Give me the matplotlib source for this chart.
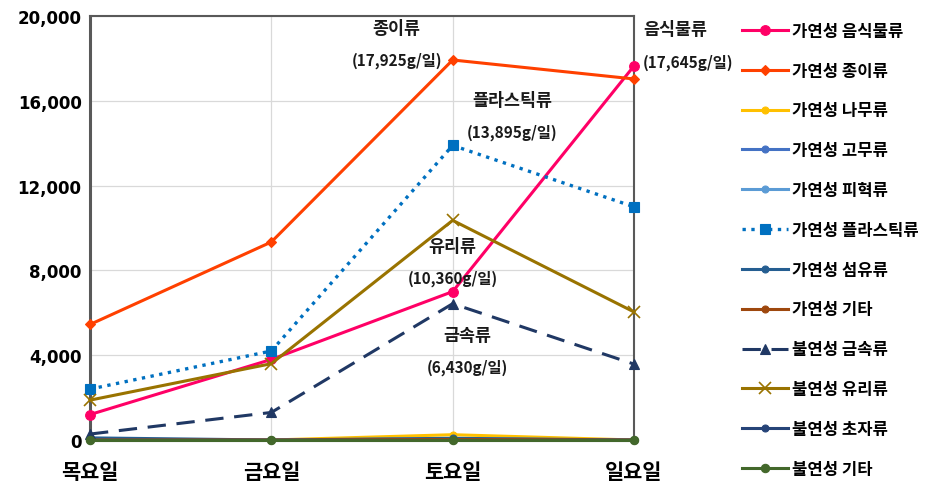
import matplotlib
matplotlib.use("Agg")
import matplotlib.pyplot as plt

plt.rcParams['font.family'] = ['Noto Sans CJK KR', 'DejaVu Sans']

days = ['목요일', '금요일', '토요일', '일요일']

food = [1200, 3800, 7000, 17645]
paper = [5450, 9340, 17925, 17030]
wood = [0, 0, 250, 0]
rubber = [0, 0, 50, 0]
leather = [0, 0, 30, 0]
plastic = [2400, 4200, 13895, 11000]
fiber = [100, 0, 80, 0]
etc_comb = [0, 0, 20, 0]
metal = [280, 1300, 6430, 3580]
glass = [1880, 3600, 10360, 6040]
ceramic = [0, 0, 0, 0]
etc_noncomb = [0, 0, 0, 0]

series = [
    ('가연성 음식물류', food, '#FF0066', '-', 'o', 7),
    ('가연성 종이류', paper, '#FF4000', '-', 'D', 5),
    ('가연성 나무류', wood, '#FFC000', '-', 'o', 5),
    ('가연성 고무류', rubber, '#4472C4', '-', 'o', 5),
    ('가연성 피혁류', leather, '#5B9BD5', '-', 'o', 5),
    ('가연성 플라스틱류', plastic, '#0070C0', ':', 's', 7),
    ('가연성 섬유류', fiber, '#255E91', '-', 'o', 5),
    ('가연성 기타', etc_comb, '#9E480E', '-', 'o', 5),
    ('불연성 금속류', metal, '#203864', (0, (6, 3.5)), '^', 7),
    ('불연성 유리류', glass, '#997300', '-', 'x', 8),
    ('불연성 초자류', ceramic, '#264478', '-', 'o', 5),
    ('불연성 기타', etc_noncomb, '#43682B', '-', 'o', 6),
]

fig = plt.figure(figsize=(9.32, 4.85), dpi=100)
ax = fig.add_axes([90 / 932, 1 - 441 / 485, 544 / 932, 424 / 485])

x = list(range(len(days)))
handles = []
for name, vals, color, ls, mk, ms in series:
    lw = 2.2 if ls != ':' else 2.4
    ln, = ax.plot(x, vals, color=color, linestyle=ls, linewidth=lw,
                  marker=mk, markersize=ms, markeredgewidth=1.2 if mk == 'x' else 0.8,
                  markerfacecolor=color, markeredgecolor=color, label=name,
                  clip_on=False, zorder=3)
    handles.append(ln)

ax.set_xlim(0, 3)
ax.set_ylim(0, 20000)
ax.set_yticks(range(0, 20001, 4000))
ax.set_yticklabels([f'{v:,}' for v in range(0, 20001, 4000)],
                   fontsize=12, fontweight='bold', family=['DejaVu Sans'])
ax.set_xticks(x)
ax.set_xticklabels(days, fontsize=15, fontweight='bold')
ax.tick_params(axis='x', length=0, pad=15)
ax.tick_params(axis='y', length=0, pad=6)
ax.grid(True, color='#D9D9D9', linewidth=0.9, zorder=0)
ax.set_axisbelow(True)
for side in ['top', 'right']:
    ax.spines[side].set_color('#595959')
    ax.spines[side].set_linewidth(1.5)
ax.spines['left'].set_color('#595959')
ax.spines['left'].set_linewidth(2.2)
ax.spines['bottom'].set_color('#D9D9D9')
ax.spines['bottom'].set_linewidth(0.9)

# value callouts: category name above, daily amount below
name_kw = dict(fontsize=12.5, fontweight='bold', color='#1A1A1A')
val_kw = dict(fontsize=11, fontweight='bold', color='#1A1A1A')
ax.text(1.69, 19430, '종이류', ha='center', va='center', **name_kw)
ax.text(1.695, 17920, f'({paper[2]:,}g/일)', ha='center', va='center', **val_kw)
ax.text(3.05, 19390, '음식물류', ha='left', va='center', **name_kw)
ax.text(3.05, 17830, f'({food[3]:,}g/일)', ha='left', va='center', **val_kw)
ax.text(2.33, 16040, '플라스틱류', ha='center', va='center', **name_kw)
ax.text(2.33, 14530, f'({plastic[2]:,}g/일)', ha='center', va='center', **val_kw)
ax.text(2.0, 9150, '유리류', ha='center', va='center', **name_kw)
ax.text(2.0, 7640, f'({glass[2]:,}g/일)', ha='center', va='center', **val_kw)
ax.text(2.08, 4950, '금속류', ha='center', va='center', **name_kw)
ax.text(2.08, 3440, f'({metal[2]:,}g/일)', ha='center', va='center', **val_kw)

fig.legend(handles=handles, loc='upper left', bbox_to_anchor=(730 / 932, 1 - 11 / 485),
           frameon=False, prop={'size': 12, 'weight': 'bold'},
           handlelength=2.75, handletextpad=0.3,
           labelspacing=1.31, borderaxespad=0.3)

fig.savefig('out.png', dpi=100)
